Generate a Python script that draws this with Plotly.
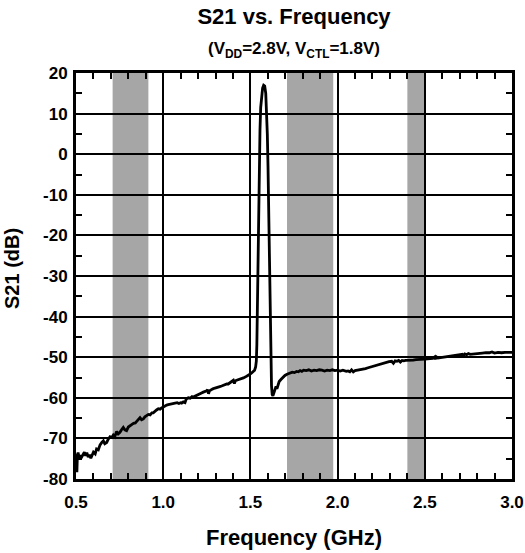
import plotly.graph_objects as go

# ---- data ----
freq_ghz = [
    0.500, 0.502, 0.505, 0.508, 0.512, 0.518, 0.525, 0.532, 0.540, 0.548,
    0.555, 0.562, 0.570, 0.578, 0.585, 0.592, 0.600, 0.610, 0.618, 0.628,
    0.638, 0.648, 0.657, 0.665, 0.676, 0.685, 0.695, 0.705, 0.714, 0.722,
    0.733, 0.742, 0.752, 0.762, 0.771, 0.780, 0.790, 0.800, 0.810, 0.819,
    0.830, 0.840, 0.848, 0.858, 0.867, 0.876, 0.886, 0.895, 0.905, 0.915,
    0.925, 0.935, 0.943, 0.953, 0.962, 0.972, 0.982, 0.991, 1.000, 1.010,
    1.020, 1.029, 1.040, 1.050, 1.060, 1.068, 1.080, 1.090, 1.100, 1.106,
    1.115, 1.125, 1.132, 1.144, 1.155, 1.165, 1.175, 1.182, 1.190, 1.200,
    1.210, 1.220, 1.230, 1.240, 1.249, 1.255, 1.260, 1.265, 1.275, 1.285,
    1.297, 1.310, 1.320, 1.335, 1.345, 1.355, 1.365, 1.373, 1.385, 1.395,
    1.402, 1.408, 1.414, 1.425, 1.435, 1.450, 1.460, 1.470, 1.480, 1.488,
    1.497, 1.507, 1.517, 1.524, 1.530, 1.534, 1.537, 1.540, 1.543, 1.547,
    1.551, 1.555, 1.559, 1.564, 1.570, 1.576, 1.582, 1.588, 1.593, 1.597,
    1.601, 1.605, 1.609, 1.613, 1.617, 1.621, 1.625, 1.629, 1.633, 1.637,
    1.642, 1.647, 1.652, 1.657, 1.665, 1.675, 1.685, 1.698, 1.710, 1.720,
    1.730, 1.740, 1.752, 1.765, 1.775, 1.785, 1.795, 1.805, 1.820, 1.835,
    1.850, 1.865, 1.880, 1.895, 1.910, 1.925, 1.940, 1.956, 1.970, 1.985,
    2.000, 2.015, 2.030, 2.050, 2.060, 2.070, 2.080, 2.090, 2.100, 2.115,
    2.130, 2.146, 2.160, 2.175, 2.190, 2.205, 2.220, 2.235, 2.250, 2.265,
    2.280, 2.295, 2.310, 2.320, 2.330, 2.340, 2.350, 2.360, 2.370, 2.380,
    2.390, 2.405, 2.420, 2.434, 2.450, 2.465, 2.480, 2.500, 2.515, 2.530,
    2.545, 2.555, 2.560, 2.565, 2.575, 2.590, 2.610, 2.625, 2.640, 2.660,
    2.680, 2.700, 2.715, 2.720, 2.730, 2.740, 2.750, 2.760, 2.775, 2.790,
    2.810, 2.830, 2.850, 2.870, 2.885, 2.900, 2.920, 2.940, 2.960, 2.980,
    3.000,
]
s21_db = [
    -76.0, -77.5, -78.3, -74.0, -73.5, -75.0, -74.2, -74.6, -73.8, -73.4,
    -74.3, -73.5, -74.6, -74.0, -74.9, -74.2, -73.4, -73.8, -72.6, -72.8,
    -71.6, -71.0, -70.6, -71.3, -71.0, -70.2, -69.6, -69.8, -69.2, -69.6,
    -68.3, -68.9, -68.5, -67.8, -67.3, -67.9, -68.1, -67.2, -66.8, -66.6,
    -66.3, -66.2, -65.8, -65.3, -64.9, -65.4, -65.2, -64.7, -64.3, -64.1,
    -64.2, -63.7, -63.7, -63.2, -63.0, -62.7, -62.8, -62.5, -62.3, -61.9,
    -61.8, -61.7, -61.6, -61.5, -61.3, -61.4, -61.2, -61.4, -61.2, -61.3,
    -61.0, -61.2, -60.3, -60.0, -60.1, -59.7, -59.9, -59.6, -59.4, -59.1,
    -58.9, -58.8, -58.6, -58.5, -58.3, -58.0, -59.0, -58.3, -58.0, -57.8,
    -57.6, -57.5, -57.3, -57.1, -56.9, -56.9, -56.6, -56.6, -56.2, -56.0,
    -55.7, -56.5, -55.8, -55.6, -55.5, -55.3, -55.1, -54.9, -54.7, -54.5,
    -54.2, -53.9, -53.6, -53.2, -52.4, -51.0, -47.0, -36.0, -24.0, -12.0,
    -2.0, 6.0, 11.5, 14.5, 16.3, 17.0, 16.8, 15.0, 11.0, 5.0,
    -3.0, -14.0, -28.0, -42.0, -52.0, -57.0, -59.2, -59.5, -59.0, -58.3,
    -58.0, -57.2, -57.8, -56.8, -56.0, -55.5, -55.0, -54.5, -54.2, -54.0,
    -53.9, -53.7, -53.8, -53.5, -53.6, -53.3, -53.5, -53.2, -53.3, -53.1,
    -53.4, -53.2, -53.3, -53.1, -53.2, -53.4, -53.2, -53.3, -53.1, -53.3,
    -53.2, -53.4, -53.2, -53.5, -53.4, -53.6, -53.1, -53.6, -53.3, -53.2,
    -53.0, -53.0, -52.8, -52.6, -52.4, -52.2, -52.0, -51.8, -51.6, -51.4,
    -51.2, -51.1, -51.0, -51.5, -50.9, -51.0, -50.8, -51.2, -50.8, -50.9,
    -50.8, -50.8, -50.7, -50.7, -50.6, -50.6, -50.5, -50.5, -50.4, -50.4,
    -50.3, -50.0, -50.5, -49.9, -50.2, -50.1, -50.0, -49.9, -49.8, -49.7,
    -49.6, -49.5, -49.3, -49.8, -49.2, -49.4, -49.1, -49.3, -49.2, -49.1,
    -49.0, -49.0, -48.9, -48.9, -48.7, -49.0, -48.8, -48.9, -48.8, -48.8,
    -48.8,
]
band_starts = [0.71, 1.71, 2.40]
band_ends = [0.915, 1.975, 2.505]

x_tickvals = [0.5, 1.0, 1.5, 2.0, 2.5, 3.0]
x_ticktext = ["0.5", "1.0", "1.5", "2.0", "2.5", "3.0"]
y_tickvals = [-80, -70, -60, -50, -40, -30, -20, -10, 0, 10, 20]
y_ticktext = ["-80", "-70", "-60", "-50", "-40", "-30", "-20", "-10", "0", "10", "20"]

x_range = [0.5, 3.0]
y_range = [-80, 20]

FONT = "Liberation Sans, Arial, sans-serif"

fig = go.Figure()
fig.add_trace(go.Scatter(
    x=freq_ghz, y=s21_db, mode="lines",
    line=dict(color="black", width=2.8),
    showlegend=False, hoverinfo="skip",
))

for b0, b1 in zip(band_starts, band_ends):
    fig.add_shape(type="rect", xref="x", yref="paper", x0=b0, x1=b1, y0=0, y1=1,
                  fillcolor="#a6a6a6", line=dict(width=0), layer="below")

axis_common = dict(
    showline=True, linewidth=3, linecolor="black", mirror="allticks",
    showgrid=True, gridcolor="black", gridwidth=2,
    zeroline=False, automargin=False,
    ticks="inside", ticklen=6, tickwidth=2, tickcolor="black",
    tickfont=dict(family=FONT, size=17, color="black", weight="bold"),
)

fig.update_xaxes(
    range=x_range, tickmode="array", tickvals=x_tickvals, ticktext=x_ticktext,
    ticklabelstandoff=6,
    minor=dict(dtick=0.1, tick0=0.5, ticks="inside", ticklen=6, tickwidth=2,
               tickcolor="black", showgrid=False),
    **axis_common,
)
fig.update_yaxes(
    range=y_range, tickmode="array", tickvals=y_tickvals, ticktext=y_ticktext,
    ticklabelstandoff=2,
    minor=dict(dtick=5, tick0=-80, ticks="inside", ticklen=6, tickwidth=2,
               tickcolor="black", showgrid=False),
    **axis_common,
)

fig.update_layout(
    width=525, height=553,
    margin=dict(l=76, r=13, t=73, b=74),
    paper_bgcolor="white", plot_bgcolor="white",
    font=dict(family=FONT, color="black"),
    title=dict(text="S21 vs. Frequency", x=0.5, xref="paper",
               y=1 - 16 / 553, yref="container", yanchor="middle",
               font=dict(family=FONT, size=22, color="black", weight="bold")),
    annotations=[
        dict(text="(V<sub>DD</sub>=2.8V, V<sub>CTL</sub>=1.8V)",
             x=0.5, xref="paper", y=1 + 23 / 406, yref="paper",
             xanchor="center", yanchor="middle", showarrow=False,
             font=dict(family=FONT, size=17, color="black", weight="bold")),
        dict(text="Frequency (GHz)",
             x=0.5, xref="paper", y=-(537 - 479) / 406, yref="paper",
             xanchor="center", yanchor="middle", showarrow=False,
             font=dict(family=FONT, size=22, color="black", weight="bold")),
        dict(text="S21 (dB)", textangle=-90,
             x=(12 - 76) / 436, xref="paper", y=(479 - 269) / 406, yref="paper",
             xanchor="center", yanchor="middle", showarrow=False,
             font=dict(family=FONT, size=20, color="black", weight="bold")),
    ],
)

fig.write_html("out.html")
